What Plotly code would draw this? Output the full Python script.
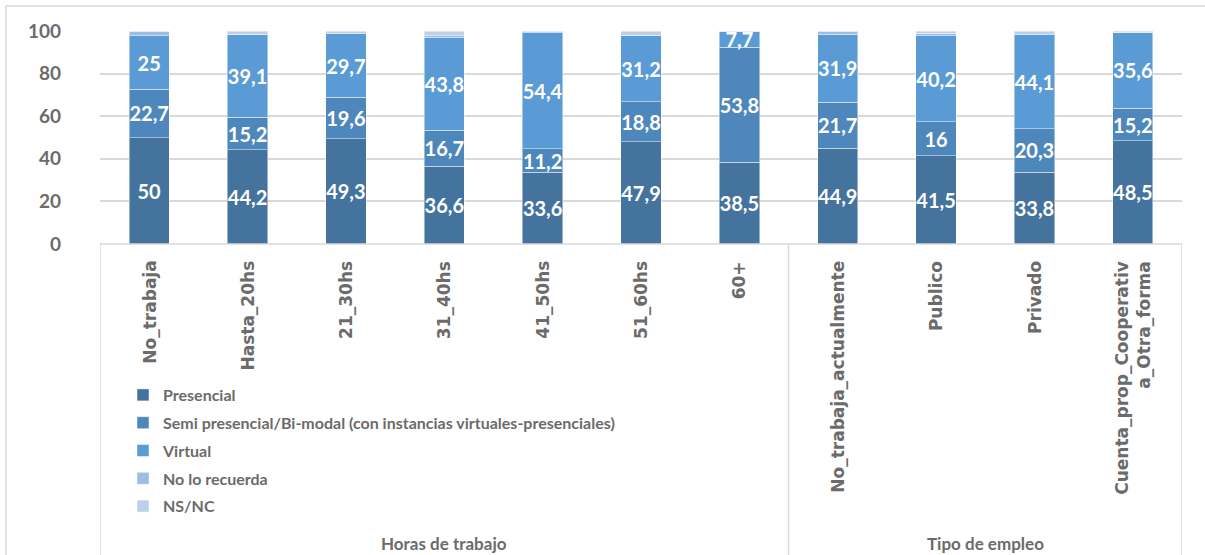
import plotly.graph_objects as go

# Categories (inner level) and their outer grouping
categories = ["No_trabaja", "Hasta_20hs", "21_30hs", "31_40hs", "41_50hs", "51_60hs", "60+",
              "No_trabaja_actualmente", "Publico", "Privado", "Cuenta_prop_Cooperativa_Otra_forma"]
tick_labels = ["No_trabaja", "Hasta_20hs", "21_30hs", "31_40hs", "41_50hs", "51_60hs", "60+",
               "No_trabaja_actualmente", "Publico", "Privado", "Cuenta_prop_Cooperativ<br>a_Otra_forma"]
group_names = ["Horas de trabajo", "Tipo de empleo"]
group_sizes = [7, 4]

# Percentages per modality
presencial = [50, 44.2, 49.3, 36.6, 33.6, 47.9, 38.5, 44.9, 41.5, 33.8, 48.5]
semi = [22.7, 15.2, 19.6, 16.7, 11.2, 18.8, 53.8, 21.7, 16, 20.3, 15.2]
virtual = [25, 39.1, 29.7, 43.8, 54.4, 31.2, 7.7, 31.9, 40.2, 44.1, 35.6]
no_recuerda = [2.3, 0, 0, 0.6, 0.8, 0, 0, 1.5, 1.3, 0, 0]
ns_nc = [0, 1.5, 1.4, 2.3, 0, 2.1, 0, 0, 1.0, 1.8, 0.7]

series_names = ["Presencial",
                "Semi presencial/Bi-modal (con instancias virtuales-presenciales)",
                "Virtual", "No lo recuerda", "NS/NC"]
series_values = [presencial, semi, virtual, no_recuerda, ns_nc]
series_colors = ["#44739e", "#4e87bb", "#5b9bd5", "#9dbde5", "#bcd0eb"]
series_labeled = [True, True, True, False, False]

GRAY = "#6b6b6b"
GRID = "#d9d9d9"
TEXT_FONT = "Lato, Open Sans, sans-serif"
TICK_FONT = "DejaVu Sans, Verdana, sans-serif"

W, H = 1205, 555
ML, MR, MT, MB = 100, 23, 31, 311
PW, PH = W - ML - MR, H - MT - MB


def px_x(px):
    return (px - ML) / PW


def px_y(py):
    return (H - MB - py) / PH


fig = go.Figure()
for name, vals, col, lab in zip(series_names, series_values, series_colors, series_labeled):
    fig.add_trace(go.Bar(
        x=categories, y=vals, name=name, legendgroup=name,
        marker=dict(color=col, line=dict(color="rgba(255,255,255,0.45)", width=1)),
        text=[f"{v:g}".replace(".", ",") for v in vals] if lab else None,
        textposition="inside" if lab else "none",
        insidetextanchor="middle", textangle=0, constraintext="none",
        textfont=dict(family=TEXT_FONT, size=20, color="white", weight="bold"),
        hoverinfo="x+y+name",
    ))

shapes = []
# category-axis box: top edge, outer borders and group separator
shapes.append(dict(type="line", xref="x", yref="paper", x0=-0.5, x1=len(categories) - 0.5,
                   y0=0, y1=0, line=dict(color=GRID, width=1.5)))
edges = [-0.5]
acc = 0
for n in group_sizes:
    acc += n
    edges.append(acc - 0.5)
for e in edges:
    shapes.append(dict(type="line", xref="x", yref="paper", x0=e, x1=e,
                       y0=0, y1=px_y(H + 5), line=dict(color=GRID, width=1.5)))
# chart-area border (top and left)
shapes.append(dict(type="line", xref="paper", yref="paper", x0=px_x(6), x1=px_x(W + 5),
                   y0=px_y(6), y1=px_y(6), line=dict(color=GRID, width=1.5)))
shapes.append(dict(type="line", xref="paper", yref="paper", x0=px_x(6), x1=px_x(6),
                   y0=px_y(6), y1=px_y(H + 5), line=dict(color=GRID, width=1.5)))

annotations = []
for cat, lab in zip(categories, tick_labels):
    annotations.append(dict(x=cat, xref="x", y=px_y(259), yref="paper", text=lab,
                            textangle=-90, showarrow=False, xanchor="center", yanchor="top",
                            align="right",
                            font=dict(family=TICK_FONT, size=17, color=GRAY, weight="bold")))
start = 0
for g, n in zip(group_names, group_sizes):
    annotations.append(dict(x=start + (n - 1) / 2, xref="x", y=px_y(543), yref="paper",
                            text=g, showarrow=False, xanchor="center", yanchor="middle",
                            font=dict(family=TEXT_FONT, size=17, color=GRAY, weight="bold")))
    start += n

fig.update_layout(
    width=W, height=H,
    margin=dict(l=ML, r=MR, t=MT, b=MB),
    barmode="stack", bargap=0.59,
    paper_bgcolor="white", plot_bgcolor="white",
    separators=",.",
    xaxis=dict(type="category", showticklabels=False, showgrid=False, showline=False,
               ticks="", zeroline=False, range=[-0.5, len(categories) - 0.5]),
    yaxis=dict(range=[0, 100], tickvals=[0, 20, 40, 60, 80, 100], showgrid=True,
               gridcolor=GRID, gridwidth=1.5, zeroline=False, showline=False, ticks="",
               ticklabelstandoff=38,
               tickfont=dict(family=TEXT_FONT, size=19, color=GRAY, weight="bold")),
    legend=dict(x=px_x(123), xanchor="left", y=px_y(378), yanchor="top",
                orientation="v", traceorder="grouped", tracegroupgap=4,
                bgcolor="rgba(0,0,0,0)",
                font=dict(family=TEXT_FONT, size=16, color=GRAY, weight="bold")),
    shapes=shapes, annotations=annotations,
    showlegend=True,
)

fig.write_html("out.html")
